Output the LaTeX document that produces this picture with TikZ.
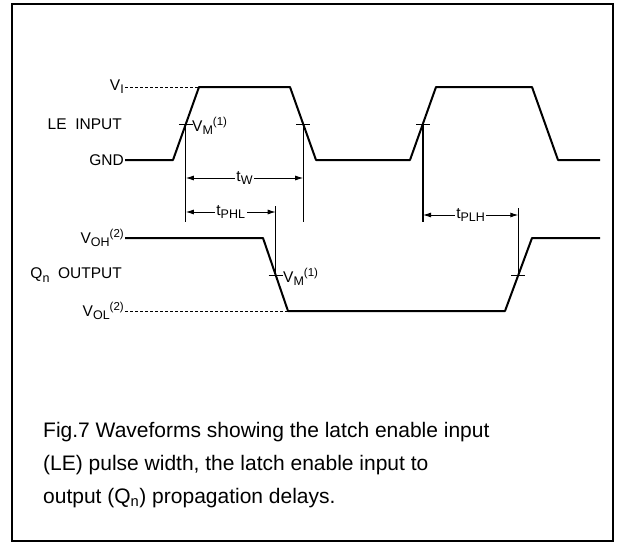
\documentclass[tikz,border=0pt]{standalone}
\usepackage{fontspec}
\setmainfont{Liberation Sans}
\usetikzlibrary{arrows.meta,positioning}
\newcommand\lsub[1]{\raisebox{-0.4ex}{\fontsize{12.5}{12.5}\selectfont #1}}
\newcommand\lsup[1]{\raisebox{0.75ex}{\fontsize{11.5}{11.5}\selectfont #1}}

\begin{document}
\begin{tikzpicture}[x=1pt,y=-1pt,>={Latex[length=8pt,width=5pt]},
    wave/.style={line width=2pt,line join=round},
    level/.style={densely dashed,line width=0.7pt},
    lbl/.style={font=\fontsize{15.5}{17}\selectfont,inner sep=1pt},
    tick/.style={line width=0.9pt},
    marker/.style={line width=1.2pt},
    dim/.style={<->,line width=0.9pt},
    dimlbl/.style={lbl,fill=white,inner sep=1.5pt}]
  \useasboundingbox (0,0) rectangle (617,543);
  % frame
  \draw[line width=1.8pt] (12,4) rectangle (613,541);

  % LE input
  \node[lbl,anchor=east] (vi) at (125,87) {V\lsub{I}};
  \node[lbl,anchor=east] (le) at (123,124) {LE\ \ INPUT};
  \node[lbl,anchor=east] (gnd) at (125,160) {GND};
  \draw[level] (vi.east) -- (199,87);
  \draw[wave] (gnd.east) -- (173,160) -- (199,87) -- (290,87) -- (316,160)
    -- (410,160) -- (436,87) -- (532,87) -- (558,160) -- (600,160);
  \coordinate (r1) at (185.8,124);
  \coordinate (f1) at (303.2,124);
  \coordinate (r2) at (423,124);
  \foreach \c in {r1,f1,r2}
    \draw[tick] ([xshift=-7pt]\c) -- ([xshift=7pt]\c);
  \node[lbl,anchor=west] (vm1) at (191,126) {V\lsub{M}\lsup{(1)}};

  % Qn output
  \node[lbl,anchor=east] (voh) at (125,238) {V\lsub{OH}\lsup{(2)}};
  \node[lbl,anchor=east] (qn) at (123,275) {Q\lsub{n}\ \ OUTPUT};
  \node[lbl,anchor=east] (vol) at (125,311) {V\lsub{OL}\lsup{(2)}};
  \draw[level] (vol.east) -- (288,311);
  \draw[wave] (voh.east) -- (263,238) -- (288,311) -- (505,311) -- (532,238)
    -- (600,238);
  \coordinate (q1) at (275.7,275);
  \coordinate (q2) at (518.3,275);
  \foreach \c in {q1,q2}
    \draw[tick] ([xshift=-7pt]\c) -- ([xshift=7pt]\c);
  \node[lbl,anchor=west] (vm2) at (282,277) {V\lsub{M}\lsup{(1)}};

  % timing markers
  \coordinate (r1b) at (185.8,222);
  \coordinate (f1b) at (303.2,222);
  \coordinate (r2b) at (423,222);
  \coordinate (q1t) at (275.7,206);
  \coordinate (q2t) at (518.3,208);
  \draw[marker] (r1) -- (r1b);
  \draw[marker] (f1) -- (f1b);
  \draw[marker] (r2) -- (r2b);
  \draw[marker] (q1t) -- (q1);
  \draw[marker] (q2t) -- (q2);
  \draw[dim] (r1 |- 0,178) -- node[dimlbl] (tw) {t\lsub{W}} (f1 |- 0,178);
  \draw[dim] (r1 |- 0,212) -- node[dimlbl] (tphl) {t\lsub{PHL}} (q1 |- 0,212);
  \draw[dim] (r2 |- 0,215) -- node[dimlbl] (tplh) {t\lsub{PLH}} (q2 |- 0,215);

  % caption
  \node[anchor=north west,align=left,inner sep=0pt,
        font=\fontsize{21}{33}\selectfont] (cap) at (43,422)
    {Fig.7 Waveforms showing the latch enable input\\
     (LE) pulse width, the latch enable input to\\
     output (Q\textsubscript{n}) propagation delays.};
\end{tikzpicture}
\end{document}
